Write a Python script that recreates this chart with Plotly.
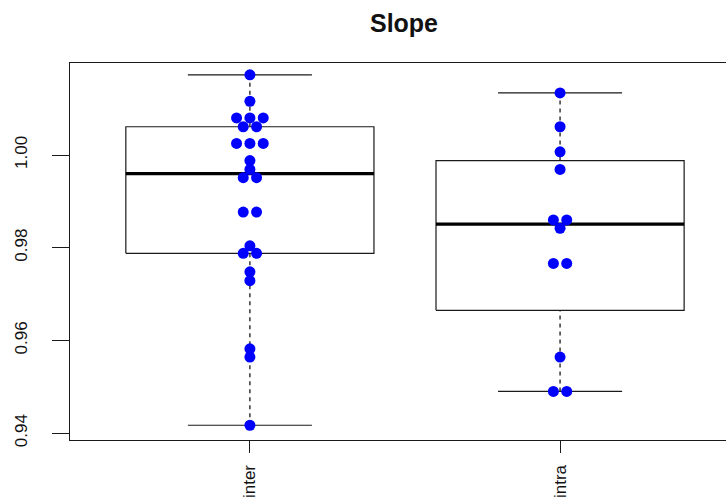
import numpy as np
import plotly.graph_objects as go

# Slope estimates per comparison group
categories = ["inter", "intra"]
inter_values = [
    1.0173, 1.0116,
    1.0080, 1.0080, 1.0080,
    1.0061, 1.0061,
    1.0025, 1.0025, 1.0025,
    0.9988, 0.9969,
    0.9951, 0.9951,
    0.9877, 0.9877,
    0.9804,
    0.9788, 0.9788,
    0.9748, 0.9729,
    0.9582, 0.9564,
    0.9417,
]
intra_values = [
    1.0134, 1.0061, 1.0007, 0.9969,
    0.9860, 0.9860,
    0.9842,
    0.9766, 0.9766,
    0.9564,
    0.9490, 0.9490,
]
y_tick_values = [0.94, 0.96, 0.98, 1.00]
y_tick_labels = ["0.94", "0.96", "0.98", "1.00"]

groups = [inter_values, intra_values]

BOX_HALF = 0.4      # boxwex 0.8
CAP_HALF = 0.2      # staple width
SWARM_STEP = 0.043  # horizontal spacing of tied points
LINE_COL = "#1a1a1a"
FONT = "Liberation Sans, Arial, sans-serif"


def tukey_stats(vals):
    """Tukey hinges (as in R's fivenum/boxplot.stats) and whisker ends."""
    v = np.sort(np.asarray(vals, dtype=float))
    n = len(v)
    n4 = np.floor((n + 3) / 2) / 2
    d = np.array([1, n4, (n + 1) / 2, n + 1 - n4, n]) - 1
    five = 0.5 * (v[np.floor(d).astype(int)] + v[np.ceil(d).astype(int)])
    q1, med, q3 = five[1], five[2], five[3]
    iqr = q3 - q1
    lo = v[v >= q1 - 1.5 * iqr].min()
    hi = v[v <= q3 + 1.5 * iqr].max()
    return lo, q1, med, q3, hi


def swarm_offsets(vals):
    """Spread tied values side by side around the group centre."""
    vals = list(vals)
    offs = []
    seen = {}
    counts = {}
    for y in vals:
        counts[y] = counts.get(y, 0) + 1
    for y in vals:
        k = seen.get(y, 0)
        seen[y] = k + 1
        offs.append((k - (counts[y] - 1) / 2) * SWARM_STEP)
    return offs


fig = go.Figure()

for i, vals in enumerate(groups):
    c = i + 1
    lo, q1, med, q3, hi = tukey_stats(vals)
    # whiskers (dashed)
    for a, b in ((q3, hi), (lo, q1)):
        fig.add_trace(go.Scatter(x=[c, c], y=[a, b], mode="lines",
                                 line=dict(color=LINE_COL, width=1.3, dash="4px,4px"),
                                 hoverinfo="skip", showlegend=False))
    # staples
    for yv in (lo, hi):
        fig.add_trace(go.Scatter(x=[c - CAP_HALF, c + CAP_HALF], y=[yv, yv], mode="lines",
                                 line=dict(color=LINE_COL, width=1.2),
                                 hoverinfo="skip", showlegend=False))
    # box
    fig.add_trace(go.Scatter(
        x=[c - BOX_HALF, c + BOX_HALF, c + BOX_HALF, c - BOX_HALF, c - BOX_HALF],
        y=[q1, q1, q3, q3, q1], mode="lines",
        line=dict(color=LINE_COL, width=1.2),
        hoverinfo="skip", showlegend=False))
    # median
    fig.add_trace(go.Scatter(x=[c - BOX_HALF, c + BOX_HALF], y=[med, med], mode="lines",
                             line=dict(color="black", width=3.2),
                             hoverinfo="skip", showlegend=False))

# points drawn over the boxes
for i, vals in enumerate(groups):
    c = i + 1
    xs = [c + o for o in swarm_offsets(vals)]
    fig.add_trace(go.Scatter(x=xs, y=vals, mode="markers",
                             marker=dict(color="#0000ff", size=11, line=dict(width=0)),
                             name=categories[i], showlegend=False))

fig.update_layout(
    width=726, height=497,
    margin=dict(l=70, r=0, t=63, b=57, autoexpand=False),
    paper_bgcolor="white", plot_bgcolor="white",
    font=dict(family=FONT, color="#111111"),
    title=dict(text="<b>Slope</b>", x=404 / 726, xref="container", xanchor="center",
               y=1 - 23 / 497, yref="container", yanchor="middle",
               font=dict(size=25, family=FONT, color="#111111")),
)
fig.update_xaxes(
    range=[0.42, 2.535],
    tickmode="array", tickvals=[1, 2], ticktext=categories,
    tickangle=-90, ticks="outside", ticklen=12, tickwidth=1.3, tickcolor=LINE_COL,
    tickfont=dict(size=17, family=FONT, color="#111111"),
    showline=True, mirror=True, linecolor=LINE_COL, linewidth=1.4,
    showgrid=False, zeroline=False, ticklabelstandoff=5,
)
fig.update_yaxes(
    range=[0.93852, 1.01985],
    tickmode="array", tickvals=y_tick_values, ticktext=y_tick_labels,
    tickangle=-90, ticks="outside", ticklen=17, tickwidth=1.3, tickcolor=LINE_COL,
    tickfont=dict(size=17, family=FONT, color="#111111"),
    showline=True, mirror=False, linecolor=LINE_COL, linewidth=1.4,
    showgrid=False, zeroline=False, ticklabelstandoff=18,
)

fig.write_html("out.html")
